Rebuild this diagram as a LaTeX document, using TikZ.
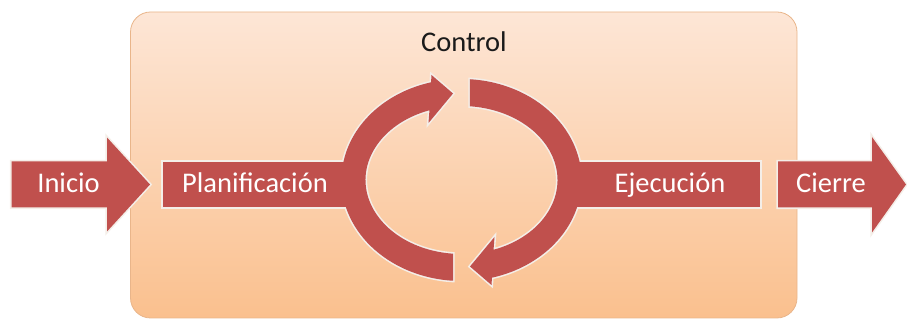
\documentclass[tikz,border=0pt]{standalone}
\usepackage{fontspec}
\setmainfont{Carlito}
\definecolor{arrowred}{HTML}{C0504D}
\definecolor{boxtop}{HTML}{FDE6D6}
\definecolor{boxbot}{HTML}{FAC08E}
\definecolor{boxedge}{HTML}{E9B58A}
\definecolor{glow}{HTML}{F4EEE8}
\definecolor{txtdark}{HTML}{1A1A1A}
\tikzset{
  outl/.style={draw=glow, line width=3.2pt, line join=miter},
  redfill/.style={fill=arrowred},
  lbl/.style={text=white, font=\fontsize{28.5}{30}\selectfont, anchor=base, inner sep=0pt},
  ttl/.style={text=txtdark, font=\fontsize{28.5}{30}\selectfont, anchor=base, inner sep=0pt}
}
\begin{document}
\begin{tikzpicture}[x=1pt,y=1pt]
\useasboundingbox (0,0) rectangle (907,320);
% control box
\shadedraw[top color=boxtop, bottom color=boxbot, draw=boxedge, line width=0.8pt, rounded corners=20pt] (130.5,2) rectangle (797,308);
% ---- outlines (first pass)
\path[outl] (11.5,112.5) -- (107,112.5) -- (107,88.5) -- (150,135.5) -- (107,182.5) -- (107,158.5) -- (11.5,158.5) -- cycle;
\path[outl] (778,112.5) -- (872,112.5) -- (872,87.5) -- (906,135.5) -- (872,183) -- (872,158.5) -- (778,158.5) -- cycle;
\path[outl] (163,113) rectangle (356,158);
\path[outl] (567,113) rectangle (760,158);
\begin{scope}[shift={(461.5,140)}]
  \path[outl] (266:120 and 101) arc[start angle=266, end angle=104.7, x radius=120, y radius=101]
    -- (-30,105) -- (-8.5,86.5) -- (-33,57) -- (109.5:96 and 74)
    arc[start angle=109.5, end angle=265, x radius=96, y radius=74] -- cycle;
  \begin{scope}[rotate=180]
  \path[outl] (266:120 and 101) arc[start angle=266, end angle=104.7, x radius=120, y radius=101]
    -- (-30,105) -- (-8.5,86.5) -- (-33,57) -- (109.5:96 and 74)
    arc[start angle=109.5, end angle=265, x radius=96, y radius=74] -- cycle;
  \end{scope}
\end{scope}
% ---- fills (second pass)
\path[redfill] (11.5,112.5) -- (107,112.5) -- (107,88.5) -- (150,135.5) -- (107,182.5) -- (107,158.5) -- (11.5,158.5) -- cycle;
\path[redfill] (778,112.5) -- (872,112.5) -- (872,87.5) -- (906,135.5) -- (872,183) -- (872,158.5) -- (778,158.5) -- cycle;
\path[redfill] (163,113) rectangle (356,158);
\path[redfill] (567,113) rectangle (760,158);
\begin{scope}[shift={(461.5,140)}]
  \path[redfill] (266:120 and 101) arc[start angle=266, end angle=104.7, x radius=120, y radius=101]
    -- (-30,105) -- (-8.5,86.5) -- (-33,57) -- (109.5:96 and 74)
    arc[start angle=109.5, end angle=265, x radius=96, y radius=74] -- cycle;
  \begin{scope}[rotate=180]
  \path[redfill] (266:120 and 101) arc[start angle=266, end angle=104.7, x radius=120, y radius=101]
    -- (-30,105) -- (-8.5,86.5) -- (-33,57) -- (109.5:96 and 74)
    arc[start angle=109.5, end angle=265, x radius=96, y radius=74] -- cycle;
  \end{scope}
\end{scope}
% ---- labels
\node[ttl] (control) at (464,268.5) {Control};
\node[lbl] (inicio) at (68.5,127) {Inicio};
\node[lbl] (plan) at (255,127) {Planificación};
\node[lbl] (ejec) at (670,127.5) {Ejecución};
\node[lbl] (cierre) at (831,127.5) {Cierre};
\end{tikzpicture}
\end{document}
